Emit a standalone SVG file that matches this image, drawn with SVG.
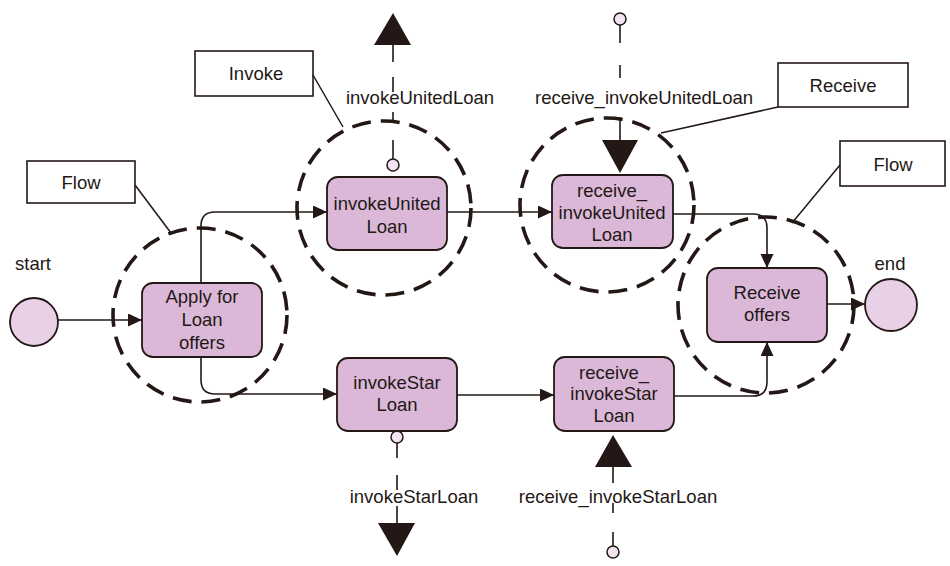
<svg xmlns="http://www.w3.org/2000/svg" width="950" height="566" viewBox="0 0 950 566">
  <defs>
    <style>
      text { font-family: "Liberation Sans", Arial, Helvetica, sans-serif; font-size: 18.5px; fill: #231815; text-anchor: middle; }
      .node rect { fill: #dbb8d8; stroke: #231815; stroke-width: 1.8; }
      .term { fill: #e8d0e7; stroke: #231815; stroke-width: 1.8; }
      .port { fill: #f1e4f0; stroke: #231815; stroke-width: 1.5; }
      .note rect { fill: #ffffff; stroke: #231815; stroke-width: 1.6; }
      .note line { stroke: #231815; stroke-width: 1.5; }
      .scope { fill: none; stroke: #231815; stroke-width: 3.6; stroke-dasharray: 19 10; }
      .flow { fill: none; stroke: #231815; stroke-width: 1.6; marker-end: url(#arrow); }
      .msg { fill: none; stroke: #231815; stroke-width: 1.6; }
      .big { fill: #231815; }
    </style>
    <marker id="arrow" markerUnits="userSpaceOnUse" markerWidth="15" markerHeight="14" refX="14" refY="6.5" orient="auto">
      <path d="M0,0 L14,6.5 L0,13 z" fill="#231815"/>
    </marker>
  </defs>

  <rect width="950" height="566" fill="#ffffff"/>

  <!-- scope circles (Flow / Invoke / Receive / Flow) -->
  <g id="scopes">
    <circle class="scope" cx="200" cy="315" r="87"/>
    <circle class="scope" cx="384" cy="208" r="87"/>
    <circle class="scope" cx="607" cy="205" r="87"/>
    <circle class="scope" cx="766" cy="305" r="88"/>
  </g>

  <!-- annotation boxes -->
  <g id="note-flow-left" class="note">
    <rect x="27" y="161" width="108" height="42"/>
    <text x="81" y="189">Flow</text>
    <line x1="135" y1="185" x2="171" y2="233"/>
  </g>
  <g id="note-invoke" class="note">
    <rect x="195" y="51" width="118" height="45"/>
    <text x="256" y="80">Invoke</text>
    <line x1="313" y1="75" x2="343" y2="127"/>
  </g>
  <g id="note-receive" class="note">
    <rect x="778" y="63" width="130" height="44"/>
    <text x="843" y="92">Receive</text>
    <line x1="778" y1="107" x2="661" y2="133"/>
  </g>
  <g id="note-flow-right" class="note">
    <rect x="840" y="141" width="105" height="45"/>
    <text x="893" y="171">Flow</text>
    <line x1="840" y1="165" x2="792" y2="223"/>
  </g>

  <!-- connectors -->
  <g id="connectors">
    <path class="flow" d="M57 320 H142"/>
    <path class="flow" d="M201 283 V226 Q201 212 215 212 H327"/>
    <path class="flow" d="M201 357 V380 Q201 394 215 394 H337"/>
    <path class="flow" d="M447 212 H552"/>
    <path class="flow" d="M457 395 H554"/>
    <path class="flow" d="M673 214 H753 Q767 214 767 228 V268"/>
    <path class="flow" d="M674 396 H753 Q767 396 767 382 V342"/>
    <path class="flow" d="M827 304 H865"/>

    <!-- message links -->
    <path class="msg" d="M393 45 V62 M393 77 V92 M393 112 V122 M393 140 V159"/>
    <polygon class="big" points="393,13 411,45 374,45"/>
    <circle class="port" cx="393" cy="165" r="6"/>

    <path class="msg" d="M620 25 V43 M620 65 V78 M620 117 V140"/>
    <polygon class="big" points="602,140 638,140 620,173"/>
    <circle class="port" cx="620" cy="19" r="6"/>

    <path class="msg" d="M397 443 V458 M397 475 V490 M397 506 V523"/>
    <polygon class="big" points="378,523 415,523 397,556"/>
    <circle class="port" cx="397" cy="437" r="6"/>

    <path class="msg" d="M613 467 V483 M613 503 V513 M613 532 V546"/>
    <polygon class="big" points="613,435 632,467 595,467"/>
    <circle class="port" cx="613" cy="552" r="6"/>
  </g>

  <!-- message labels -->
  <g id="labels">
    <text x="420" y="104">invokeUnitedLoan</text>
    <text x="644" y="104">receive_invokeUnitedLoan</text>
    <text x="414" y="503">invokeStarLoan</text>
    <text x="618" y="503">receive_invokeStarLoan</text>
  </g>

  <!-- start / end -->
  <g id="start">
    <circle class="term" cx="34" cy="322" r="24"/>
    <text x="33" y="270">start</text>
  </g>
  <g id="end">
    <circle class="term" cx="891" cy="305" r="26"/>
    <text x="890" y="270">end</text>
  </g>

  <!-- activities -->
  <g id="apply" class="node">
    <rect x="142" y="283" width="120" height="74" rx="11"/>
    <text x="202" y="303">Apply for</text>
    <text x="202" y="326">Loan</text>
    <text x="202" y="349">offers</text>
  </g>
  <g id="invokeUnitedLoan" class="node">
    <rect x="327" y="177" width="120" height="73" rx="11"/>
    <text x="387" y="210">invokeUnited</text>
    <text x="387" y="233">Loan</text>
  </g>
  <g id="receiveUnited" class="node">
    <rect x="552" y="175" width="121" height="73" rx="11"/>
    <text x="612" y="197">receive_</text>
    <text x="612" y="219">invokeUnited</text>
    <text x="612" y="241">Loan</text>
  </g>
  <g id="invokeStarLoan" class="node">
    <rect x="337" y="358" width="120" height="73" rx="11"/>
    <text x="397" y="389">invokeStar</text>
    <text x="397" y="411">Loan</text>
  </g>
  <g id="receiveStar" class="node">
    <rect x="554" y="357" width="120" height="74" rx="11"/>
    <text x="614" y="379">receive_</text>
    <text x="614" y="400">invokeStar</text>
    <text x="614" y="422">Loan</text>
  </g>
  <g id="receiveOffers" class="node">
    <rect x="707" y="268" width="120" height="74" rx="11"/>
    <text x="767" y="299">Receive</text>
    <text x="767" y="321">offers</text>
  </g>
</svg>
